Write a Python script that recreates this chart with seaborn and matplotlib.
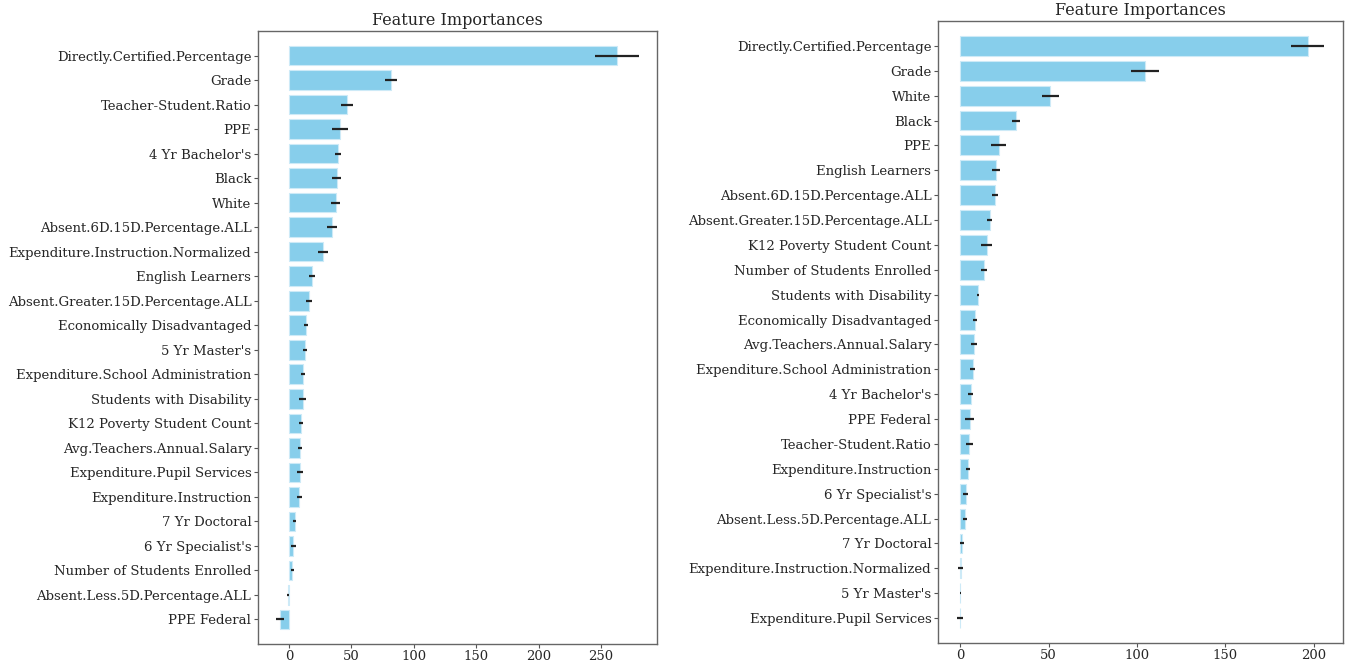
import numpy as np
import pandas as pd
import matplotlib
matplotlib.use("Agg")
import matplotlib.pyplot as plt
import seaborn as sns

# Modell 1 (links)
features_left = [
    "Directly.Certified.Percentage", "Grade", "Teacher-Student.Ratio", "PPE",
    "4 Yr Bachelor's", "Black", "White", "Absent.6D.15D.Percentage.ALL",
    "Expenditure.Instruction.Normalized", "English Learners",
    "Absent.Greater.15D.Percentage.ALL", "Economically Disadvantaged",
    "5 Yr Master's", "Expenditure.School Administration",
    "Students with Disability", "K12 Poverty Student Count",
    "Avg.Teachers.Annual.Salary", "Expenditure.Pupil Services",
    "Expenditure.Instruction", "7 Yr Doctoral", "6 Yr Specialist's",
    "Number of Students Enrolled", "Absent.Less.5D.Percentage.ALL", "PPE Federal",
]
importance_left = [262.5, 81.3, 46.3, 40.8, 39.1, 38.4, 37.4, 34.3, 27.1, 18.5,
                   16.1, 13.7, 12.7, 11.3, 11.0, 9.6, 8.6, 8.6, 8.2, 4.5,
                   3.4, 2.7, -0.7, -7.2]
std_left = [17.5, 4.8, 5.0, 6.2, 2.4, 3.6, 3.8, 3.9, 3.8, 2.6,
            2.4, 1.7, 1.5, 1.9, 2.9, 1.5, 1.7, 2.4, 1.9, 1.2,
            1.9, 1.5, 0.8, 2.9]

# Modell 2 (rechts)
features_right = [
    "Directly.Certified.Percentage", "Grade", "White", "Black", "PPE",
    "English Learners", "Absent.6D.15D.Percentage.ALL",
    "Absent.Greater.15D.Percentage.ALL", "K12 Poverty Student Count",
    "Number of Students Enrolled", "Students with Disability",
    "Economically Disadvantaged", "Avg.Teachers.Annual.Salary",
    "Expenditure.School Administration", "4 Yr Bachelor's", "PPE Federal",
    "Teacher-Student.Ratio", "Expenditure.Instruction", "6 Yr Specialist's",
    "Absent.Less.5D.Percentage.ALL", "7 Yr Doctoral",
    "Expenditure.Instruction.Normalized", "5 Yr Master's",
    "Expenditure.Pupil Services",
]
importance_right = [196.6, 104.4, 50.9, 31.5, 21.7, 20.2, 19.7, 16.6, 14.9, 13.5,
                    10.1, 8.4, 7.9, 7.2, 6.0, 5.3, 5.1, 4.6, 3.1, 2.6,
                    1.0, 0.3, 0.1, -0.3]
std_right = [9.3, 7.8, 4.8, 2.5, 4.1, 2.2, 1.8, 1.6, 3.0, 1.6,
             0.7, 1.1, 1.7, 1.4, 1.4, 2.4, 1.9, 1.1, 1.3, 1.0,
             1.1, 1.4, 0.3, 1.7]

sns.set_style("ticks")
plt.rcParams['font.family'] = ['DejaVu Serif']

fig = plt.figure(figsize=(13.46, 6.64), dpi=100)
ax1 = fig.add_axes([258.3 / 1346, 20 / 664, 398.4 / 1346, 613 / 664])
ax2 = fig.add_axes([938.3 / 1346, 21 / 664, 404.4 / 1346, 622 / 664])

for ax, feats, imp, err in [(ax1, features_left, importance_left, std_left),
                            (ax2, features_right, importance_right, std_right)]:
    df = pd.DataFrame({"feature": feats, "importance": imp, "std": err})
    sns.barplot(data=df, x="importance", y="feature", orient="h", color="skyblue",
                saturation=1, errorbar=None, width=0.8, edgecolor="#cdeaf7",
                linewidth=0.8, ax=ax)
    ax.errorbar(df["importance"], np.arange(len(df)), xerr=df["std"], fmt="none",
                ecolor="#222222", elinewidth=1.6, capsize=0)
    ax.set_title("Feature Importances", fontsize=11.5, pad=4)
    ax.set_xlabel("")
    ax.set_ylabel("")
    ax.tick_params(axis="y", labelsize=9.5, length=3, pad=2, color="#555555")
    ax.tick_params(axis="x", labelsize=9.5, length=3, pad=1.5, color="#555555")
    for s in ax.spines.values():
        s.set_color("#666666")
        s.set_linewidth(1)
    ax.margins(x=0.05)

ax1.set_ylim(24.0, -1.0)
ax2.set_ylim(24.0, -1.0)

plt.savefig("out.png", dpi=100)
